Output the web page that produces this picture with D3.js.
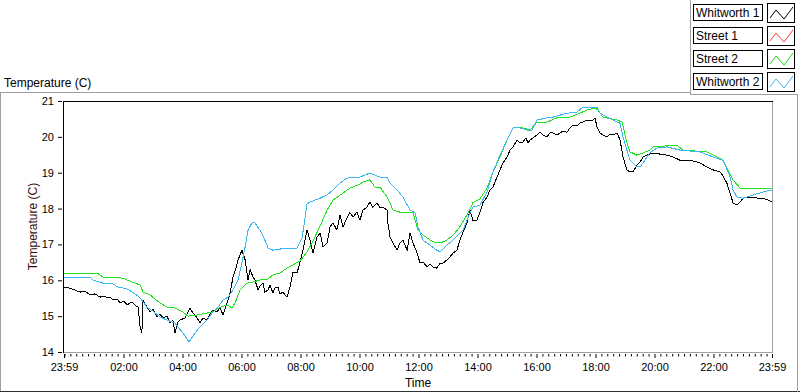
<!DOCTYPE html>
<html>
<head>
<meta charset="utf-8">
<script src="https://cdn.jsdelivr.net/npm/d3@7"></script>
<style>
  body { margin: 0; background: #fff; }
  svg { display: block; font-family: "Liberation Sans", Arial, sans-serif; }
  .axis text { font-size: 11px; fill: #000; }
  .axis line { stroke: #000; }
</style>
</head>
<body>
<div class="chart"></div>
<script>
// series names + colours (legend order)
const seriesNames = ["Whitworth 1", "Street 1", "Street 2", "Whitworth 2"];
const seriesColors = ["#000000", "#ff3a3a", "#1ee21e", "#3cb6f2"];

// x tick labels, and their offset in minutes from the first 23:59
const tickLabels = ["23:59","02:00","04:00","06:00","08:00","10:00","12:00","14:00","16:00","18:00","20:00","22:00","23:59"];
const tickMinutes = [0,121,241,361,481,601,721,841,961,1081,1201,1321,1440];
const yTicks = [14,15,16,17,18,19,20,21];

// [hours since 23:59, temperature C]
const whitworth1 = [
  [0,15.81],[0.20,15.78],[0.37,15.73],[0.54,15.67],[0.71,15.70],[0.88,15.59],[1.05,15.62],[1.22,15.53],
  [1.36,15.56],[1.46,15.51],[1.56,15.53],[1.66,15.45],[1.80,15.48],[1.90,15.37],[2.03,15.42],[2.14,15.31],
  [2.24,15.37],[2.34,15.37],[2.44,15.28],[2.51,15.25],[2.58,14.70],[2.64,14.53],[2.68,15.45],[2.75,15.34],
  [2.81,15.25],[2.92,15.12],[3.02,15.20],[3.15,14.98],[3.25,15.06],[3.36,14.95],[3.49,15.00],[3.59,14.81],
  [3.69,14.89],[3.76,14.53],[3.86,14.84],[3.93,14.89],[4.10,14.95],[4.20,15.12],[4.27,15.23],[4.37,15.09],
  [4.51,14.95],[4.61,14.81],[4.71,14.95],[4.85,14.89],[4.95,15.06],[5.05,15.17],[5.19,15.12],[5.29,15.25],
  [5.39,15.03],[5.53,15.37],[5.63,15.65],[5.73,16.09],[5.83,16.34],[5.90,16.57],[5.97,16.71],[6.03,16.84],
  [6.14,16.57],[6.24,16.01],[6.31,16.29],[6.41,16.09],[6.47,16.01],[6.58,15.73],[6.64,15.84],[6.75,15.92],
  [6.81,15.67],[6.92,15.73],[6.98,15.87],[7.08,15.65],[7.15,15.78],[7.25,15.81],[7.32,15.62],[7.42,15.67],
  [7.56,15.53],[7.66,15.81],[7.76,16.23],[7.90,16.20],[8.00,16.51],[8.10,16.84],[8.24,17.40],[8.34,17.12],
  [8.44,16.76],[8.58,17.21],[8.68,17.32],[8.78,16.93],[8.92,17.04],[9.02,17.49],[9.12,17.60],[9.25,17.40],
  [9.36,17.82],[9.46,17.49],[9.59,17.74],[9.69,17.88],[9.80,17.77],[9.93,17.90],[10.03,17.68],[10.14,17.96],
  [10.27,18.04],[10.37,18.18],[10.47,18.04],[10.61,18.16],[10.71,18.02],[10.81,18.04],[10.95,17.96],[10.98,17.60],
  [11.05,17.21],[11.15,17.04],[11.29,16.84],[11.39,17.04],[11.49,17.12],[11.63,16.84],[11.73,17.32],[11.83,17.04],
  [11.97,16.76],[12.07,16.48],[12.17,16.51],[12.31,16.37],[12.41,16.45],[12.51,16.37],[12.64,16.34],[12.75,16.48],
  [12.85,16.48],[12.98,16.57],[13.08,16.65],[13.19,16.76],[13.32,16.84],[13.42,17.12],[13.53,17.35],[13.66,17.60],
  [13.76,17.96],[13.86,17.68],[14.00,17.68],[14.10,17.90],[14.20,18.16],[14.34,18.32],[14.44,18.52],[14.54,18.60],
  [14.68,18.88],[14.78,19.08],[14.88,19.27],[15.02,19.44],[15.12,19.63],[15.22,19.72],[15.36,19.91],[15.46,19.83],
  [15.56,19.86],[15.66,19.97],[15.73,19.83],[15.80,19.91],[15.90,19.97],[16.03,20.05],[16.14,20.13],[16.24,20.05],
  [16.37,20.00],[16.47,20.11],[16.58,20.11],[16.71,20.05],[16.81,20.11],[16.92,20.16],[17.05,20.13],[17.15,20.25],
  [17.25,20.33],[17.39,20.30],[17.49,20.39],[17.59,20.41],[17.73,20.47],[17.83,20.44],[17.93,20.47],[18.00,20.53],
  [18.07,20.27],[18.17,20.11],[18.27,20.05],[18.41,20.00],[18.51,20.08],[18.61,20.05],[18.75,20.11],[18.85,19.91],
  [18.95,19.44],[19.08,19.08],[19.19,19.02],[19.29,19.02],[19.42,19.21],[19.53,19.30],[19.63,19.44],[19.76,19.49],
  [19.97,19.55],[20.20,19.52],[20.44,19.49],[20.64,19.44],[20.88,19.35],[21.12,19.35],[21.32,19.33],[21.56,19.27],
  [21.80,19.16],[22.00,19.08],[22.24,19.02],[22.34,18.91],[22.47,18.71],[22.58,18.43],[22.68,18.16],[22.81,18.10],
  [22.92,18.18],[23.02,18.29],[23.19,18.32],[23.36,18.32],[23.53,18.29],[23.69,18.29],[23.86,18.24],[24.00,18.18]
];

// Street 1 is in the legend but no trace shows on the plot
const street1 = [];

const street2 = [
  [0,16.20],[1.12,16.20],[1.32,16.09],[2.00,16.06],[2.31,15.95],[2.58,15.87],[2.68,15.67],[2.92,15.59],
  [3.25,15.37],[3.49,15.25],[3.76,15.23],[4.03,15.12],[4.20,15.00],[4.51,15.03],[4.85,15.09],[5.05,15.12],
  [5.29,15.25],[5.53,15.31],[5.69,15.23],[5.80,15.37],[5.97,15.73],[6.20,15.92],[6.41,15.95],[6.64,16.01],
  [6.88,16.01],[7.08,16.15],[7.32,16.20],[7.56,16.34],[7.76,16.43],[8.00,16.54],[8.24,16.79],[8.44,17.10],
  [8.68,17.51],[8.92,17.96],[9.12,18.24],[9.46,18.43],[9.69,18.57],[9.97,18.66],[10.14,18.74],[10.37,18.80],
  [10.54,18.60],[10.71,18.60],[10.95,18.32],[11.05,18.16],[11.15,17.96],[11.39,17.90],[11.83,17.88],[12.00,17.40],
  [12.17,17.26],[12.51,17.07],[12.75,17.04],[12.98,17.12],[13.19,17.26],[13.42,17.49],[13.66,17.82],[13.86,18.16],
  [14.10,18.27],[14.34,18.57],[14.54,19.02],[14.78,19.44],[15.02,19.91],[15.22,20.25],[15.56,20.25],[15.80,20.19],
  [16.03,20.41],[16.37,20.41],[16.71,20.53],[17.15,20.55],[17.49,20.66],[17.73,20.75],[18.00,20.80],[18.10,20.75],
  [18.27,20.55],[18.75,20.47],[18.92,20.41],[19.08,19.83],[19.19,19.58],[19.42,19.49],[19.63,19.55],[19.86,19.63],
  [19.97,19.72],[20.78,19.77],[20.98,19.63],[21.80,19.58],[22.00,19.49],[22.34,19.35],[22.68,18.80],[22.92,18.57],
  [24.00,18.57]
];

const whitworth2 = [
  [0,16.09],[0.88,16.09],[0.98,16.01],[1.32,15.92],[1.66,15.90],[1.83,15.81],[2.14,15.76],[2.41,15.62],
  [2.58,15.51],[2.81,15.25],[3.02,15.14],[3.25,14.98],[3.49,14.89],[3.76,14.81],[4.03,14.53],[4.24,14.28],
  [4.44,14.53],[4.61,14.70],[4.85,14.89],[5.02,15.09],[5.22,15.25],[5.39,15.45],[5.56,15.53],[5.73,15.73],
  [5.90,16.01],[6.03,16.48],[6.14,16.93],[6.24,17.40],[6.37,17.60],[6.47,17.60],[6.64,17.40],[6.81,17.12],
  [6.92,16.90],[7.08,16.84],[7.56,16.90],[7.90,16.90],[8.07,17.18],[8.24,18.13],[8.34,18.18],[8.68,18.29],
  [8.92,18.38],[9.12,18.52],[9.36,18.71],[9.59,18.85],[10.03,18.88],[10.37,18.99],[10.71,18.88],[10.95,18.88],
  [11.05,18.71],[11.29,18.52],[11.49,18.32],[11.73,17.96],[11.90,17.88],[12.00,17.49],[12.17,17.12],[12.41,16.98],
  [12.64,16.84],[12.75,16.79],[12.98,16.98],[13.19,17.12],[13.53,17.40],[13.76,17.88],[13.86,18.04],[14.10,18.10],
  [14.34,18.46],[14.54,19.02],[14.78,19.49],[15.02,19.91],[15.22,20.25],[15.46,20.25],[15.69,20.19],[15.86,20.19],
  [16.03,20.47],[16.37,20.53],[16.58,20.55],[17.05,20.66],[17.39,20.69],[17.59,20.83],[18.07,20.83],[18.17,20.66],
  [18.41,20.55],[18.61,20.47],[18.85,20.38],[18.95,20.00],[19.08,19.63],[19.19,19.35],[19.42,19.16],[19.53,19.16],
  [19.69,19.35],[19.86,19.55],[20.10,19.69],[20.44,19.72],[20.88,19.63],[21.56,19.58],[22.00,19.44],[22.34,19.35],
  [22.58,18.88],[22.68,18.52],[22.81,18.32],[23.02,18.29],[23.36,18.38],[23.69,18.46],[24.00,18.52]
];

const allSeries = [whitworth1, street1, street2, whitworth2];

const W = 800, H = 392;
const plot = {left: 64, right: 772, top: 101, bottom: 352};

const svg = d3.select('.chart').append('svg')
  .attr('width', W)
  .attr('height', H);

const x = d3.scaleLinear().domain([0, 24]).range([plot.left, plot.right]);
const y = d3.scaleLinear().domain([14, 21]).range([plot.bottom, plot.top]);

const grey = "#a0a0a0";

// outer panel + legend frame
const frame = svg.append('g').attr('shape-rendering', 'crispEdges');
frame.append('line').attr('x1', 0).attr('x2', 690).attr('y1', 92.5).attr('y2', 92.5).attr('stroke', grey);
frame.append('line').attr('x1', 0.5).attr('x2', 0.5).attr('y1', 92).attr('y2', 392).attr('stroke', grey);
frame.append('line').attr('x1', 0).attr('x2', 800).attr('y1', 391.5).attr('y2', 391.5).attr('stroke', "#303030");
frame.append('line').attr('x1', 690.5).attr('x2', 690.5).attr('y1', 0).attr('y2', 95).attr('stroke', grey);
frame.append('line').attr('x1', 690).attr('x2', 798).attr('y1', 94.5).attr('y2', 94.5).attr('stroke', grey);
frame.append('line').attr('x1', 797.5).attr('x2', 797.5).attr('y1', 94).attr('y2', 392).attr('stroke', grey);

// plot frame
frame.append('line').attr('x1', plot.left - 0.5).attr('x2', plot.right + 0.5).attr('y1', plot.top + 0.5).attr('y2', plot.top + 0.5).attr('stroke', '#000');
frame.append('line').attr('x1', plot.left - 0.5).attr('x2', plot.left - 0.5).attr('y1', plot.top).attr('y2', plot.bottom + 1).attr('stroke', '#000');
frame.append('line').attr('x1', plot.right + 0.5).attr('x2', plot.right + 0.5).attr('y1', plot.top + 1).attr('y2', plot.bottom + 1).attr('stroke', grey);
frame.append('line').attr('x1', plot.left).attr('x2', plot.right + 1).attr('y1', plot.bottom + 0.5).attr('y2', plot.bottom + 0.5).attr('stroke', grey);

// y axis
const yAxis = d3.axisLeft(y)
  .tickValues(yTicks)
  .tickSize(4)
  .tickPadding(4)
  .tickFormat(d3.format('d'));

svg.append('g')
  .attr('class', 'axis y-axis')
  .attr('transform', `translate(${plot.left - 2},0)`)
  .call(yAxis)
  .call(g => g.select('.domain').remove());

// x axis: minor ticks every 12 min of clock time, major every 2 h
const majorH = tickMinutes.map(m => m / 60);
const minorH = d3.range(0, 120).map(k => (k * 12 + 1) / 60).filter(h => !majorH.some(m => Math.abs(m - h) < 1e-6));

svg.append('g')
  .attr('class', 'axis x-minor')
  .attr('transform', `translate(0,${plot.bottom + 2})`)
  .call(d3.axisBottom(x).tickValues(minorH).tickSize(2.5).tickFormat(''))
  .call(g => g.select('.domain').remove());

svg.append('g')
  .attr('class', 'axis x-axis')
  .attr('transform', `translate(0,${plot.bottom + 2})`)
  .call(d3.axisBottom(x).tickValues(majorH).tickSize(4).tickPadding(5).tickFormat((d, i) => tickLabels[i]))
  .call(g => g.select('.domain').remove());

// titles
svg.append('text')
  .attr('x', 4)
  .attr('y', 87)
  .style('font-size', '12px')
  .text('Temperature (C)');

svg.append('text')
  .attr('transform', `translate(37,${(plot.top + plot.bottom) / 2}) rotate(-90)`)
  .attr('text-anchor', 'middle')
  .style('font-size', '12px')
  .style('fill', '#3a0d0d')
  .text('Temperature (C)');

svg.append('text')
  .attr('x', (plot.left + plot.right) / 2)
  .attr('y', 387)
  .attr('text-anchor', 'middle')
  .style('font-size', '12px')
  .text('Time');

// traces
const line = d3.line()
  .x(d => x(d[0]))
  .y(d => y(d[1]));

svg.append('g')
  .selectAll('path')
  .data(allSeries)
  .enter()
  .append('path')
  .attr('d', d => d.length ? line(d) : null)
  .attr('fill', 'none')
  .attr('stroke', (d, i) => seriesColors[i])
  .attr('stroke-width', 1)
  .attr('shape-rendering', 'crispEdges');

// legend
const legend = svg.append('g').attr('shape-rendering', 'crispEdges');
const rows = legend.selectAll('g')
  .data(seriesNames)
  .enter()
  .append('g')
  .attr('transform', (d, i) => `translate(0,${3 + i * 23})`);

rows.append('rect')
  .attr('x', 693.5).attr('y', 1.5)
  .attr('width', 69).attr('height', 16)
  .attr('fill', '#fff').attr('stroke', '#000');

rows.append('text')
  .attr('x', 696)
  .attr('y', 14)
  .style('font-size', '12px')
  .text(d => d);

rows.append('rect')
  .attr('x', 767.5).attr('y', 0.5)
  .attr('width', 27).attr('height', 19)
  .attr('fill', '#fff').attr('stroke', '#000');

rows.append('path')
  .attr('d', 'M770,15 L776,7 L784,16 L793,4')
  .attr('fill', 'none')
  .attr('stroke', (d, i) => seriesColors[i])
  .attr('shape-rendering', 'auto');
</script>
</body>
</html>
